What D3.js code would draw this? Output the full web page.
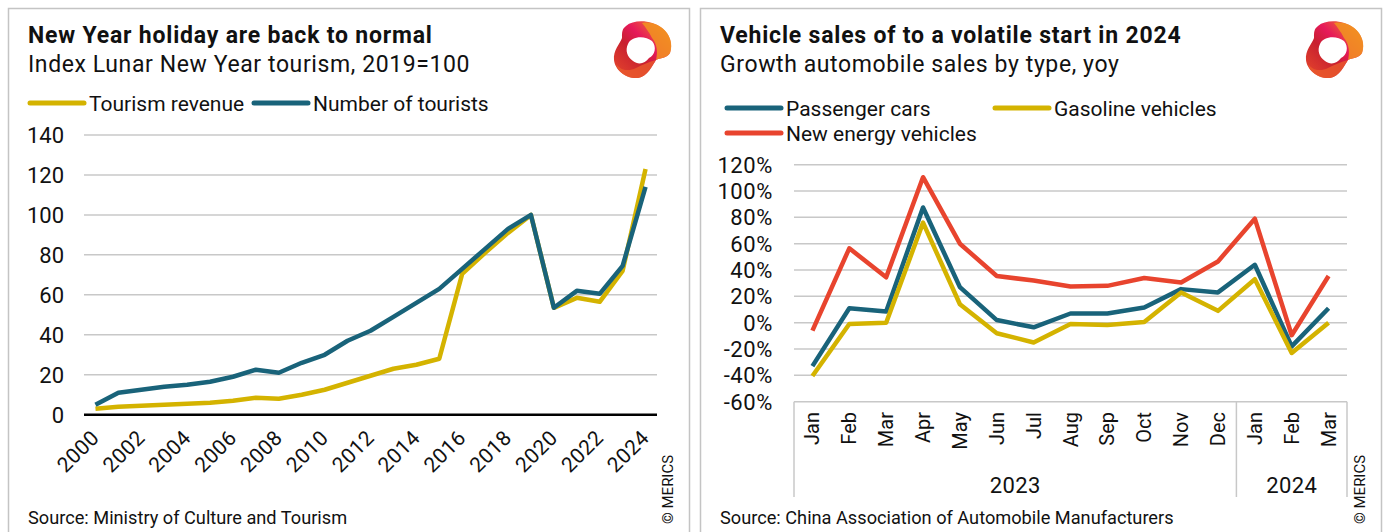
<!DOCTYPE html>
<html>
<head>
<meta charset="utf-8">
<script src="https://cdn.jsdelivr.net/npm/d3@7"></script>
<style>
  body { margin: 0; background: #fff; }
  svg { display: block; font-family: Roboto, "Noto Sans", sans-serif; }
</style>
</head>
<body>
<div id="chart"></div>
<script>
// left chart: Lunar New Year tourism index, 2019=100
const years = d3.range(2000, 2025);
const tourismRevenue = [3, 4, 4.5, 5, 5.5, 6, 7, 8.5, 8, 10, 12.5, 16, 19.5, 23, 25, 28, 70.5, 81, 91, 100, 53.5, 58.5, 56.5, 72, 123];
const tourists = [5, 11, 12.5, 14, 15, 16.5, 19, 22.5, 21, 26, 30, 37, 42, 49, 56, 63, 73, 83, 93, 100, 53.5, 62, 60.5, 74.5, 114];
const leftTicks = [0, 20, 40, 60, 80, 100, 120, 140];

// right chart: vehicle sales growth yoy (%)
const months = ['Jan', 'Feb', 'Mar', 'Apr', 'May', 'Jun', 'Jul', 'Aug', 'Sep', 'Oct', 'Nov', 'Dec', 'Jan', 'Feb', 'Mar'];
const yearGroups = [{ label: '2023', n: 12 }, { label: '2024', n: 3 }];
const passengerCars = [-33, 11, 8.5, 87.5, 27, 2, -3.5, 7, 7, 11.5, 25.5, 23, 44, -18, 11];
const gasoline = [-40.5, -1, 0, 76, 14, -8, -15, -1, -1.8, 0.5, 23, 9, 33, -23, 0];
const newEnergy = [-6, 56.5, 34.5, 110.5, 60, 35.5, 32, 27.5, 28, 34, 30.5, 46.5, 79, -9.5, 35.5];
const rightTicks = [-60, -40, -20, 0, 20, 40, 60, 80, 100, 120];

const YELLOW = '#d4b300';
const TEAL = '#19637a';
const RED = '#e8442e';
const GRID = '#c8c8c8';

const svg = d3.select('#chart')
  .append('svg')
  .attr('width', 1384)
  .attr('height', 532);

// gradient for the logo
const defs = svg.append('defs');
const grad = defs.append('linearGradient')
  .attr('id', 'logoGrad')
  .attr('x1', '0%').attr('y1', '100%')
  .attr('x2', '100%').attr('y2', '0%');
grad.append('stop').attr('offset', '0%').attr('stop-color', '#e84a2c');
grad.append('stop').attr('offset', '40%').attr('stop-color', '#c8202f');
grad.append('stop').attr('offset', '60%').attr('stop-color', '#e6195a');
grad.append('stop').attr('offset', '100%').attr('stop-color', '#f39a1e');

function drawLogo(x, y) {
  const g = svg.append('g').attr('transform', `translate(${x},${y})`);
  g.append('path')
    .attr('d', 'M14,6 C22,-1 40,0 50,8 C58,14 61,24 58,33 C55,38 48,38 44,40 C40,46 36,56 26,58 C14,59 3,50 2,40 C1,30 8,24 10,18 C10,12 10,9 14,6 Z')
    .attr('fill', 'url(#logoGrad)');
  // orange band on the right
  g.append('path')
    .attr('d', 'M30,3 C40,1 50,6 55,13 C60,20 60,28 58,33 C55,38 48,38 44,40 C46,32 45,24 40,18 C37,12 34,8 30,3 Z')
    .attr('fill', '#f29320').attr('opacity', 0.85);
  // red-orange lower band
  g.append('path')
    .attr('d', 'M4,44 C8,50 16,52 24,48 C30,45 36,42 44,40 C40,46 36,56 26,58 C14,59 6,52 4,44 Z')
    .attr('fill', '#ea5a2c').attr('opacity', 0.8);
  g.append('path')
    .attr('d', 'M16,24 C19,16 33,15 40,21 C45,27 43,35 37,38 C33,44 26,45 21,41 C15,37 13,30 16,24 Z')
    .attr('fill', '#fff');
}

function panelFrame(x0, title, subtitle, source) {
  svg.append('path')
    .attr('d', `M${x0 + 0.5},540 V8.5 H${x0 + 681.5} V540`)
    .attr('fill', 'none')
    .attr('stroke', '#c4c4c4')
    .attr('stroke-width', 1.5);
  svg.append('text')
    .attr('x', x0 + 20).attr('y', 43)
    .attr('font-size', 23).attr('font-weight', 700)
    .attr('letter-spacing', 0.8)
    .attr('fill', '#111')
    .text(title);
  svg.append('text')
    .attr('x', x0 + 20).attr('y', 72)
    .attr('font-size', 23)
    .attr('letter-spacing', 0.6)
    .attr('fill', '#111')
    .text(subtitle);
  svg.append('text')
    .attr('x', x0 + 20).attr('y', 524)
    .attr('font-size', 18.2)
    .attr('fill', '#111')
    .text(source);
  svg.append('text')
    .attr('transform', `translate(${x0 + 665},524) rotate(-90)`)
    .attr('font-size', 15)
    .attr('fill', '#111')
    .text('\u00a9 MERICS');
  drawLogo(x0 + 604, 20);
}

function legendItem(x, y, color, label) {
  svg.append('line')
    .attr('x1', x).attr('x2', x + 54)
    .attr('y1', y).attr('y2', y)
    .attr('stroke', color)
    .attr('stroke-width', 5)
    .attr('stroke-linecap', 'round');
  svg.append('text')
    .attr('x', x + 59).attr('y', y + 7.5)
    .attr('font-size', 21)
    .attr('fill', '#111')
    .text(label);
}

// ---------- left panel ----------
panelFrame(8,
  'New Year holiday are back to normal',
  'Index Lunar New Year tourism, 2019=100',
  'Source: Ministry of Culture and Tourism');

legendItem(30, 103, YELLOW, 'Tourism revenue');
legendItem(254, 103, TEAL, 'Number of tourists');

const xL = d3.scalePoint().domain(years).range([84, 657]).padding(0.5);
const yL = d3.scaleLinear().domain([0, 140]).range([414.7, 135]);

svg.append('g')
  .selectAll('line')
  .data(leftTicks.filter(d => d > 0))
  .join('line')
  .attr('x1', 84).attr('x2', 657)
  .attr('y1', d => yL(d)).attr('y2', d => yL(d))
  .attr('stroke', GRID).attr('stroke-width', 1.5);

svg.append('g')
  .selectAll('text')
  .data(leftTicks)
  .join('text')
  .attr('x', 64).attr('y', d => yL(d) + 8)
  .attr('text-anchor', 'end')
  .attr('font-size', 22)
  .attr('fill', '#111')
  .text(d => d);

svg.append('g')
  .selectAll('text')
  .data(years.filter(d => d % 2 === 0))
  .join('text')
  .attr('transform', d => `translate(${xL(d) + 5},${439}) rotate(-45)`)
  .attr('text-anchor', 'end')
  .attr('font-size', 21)
  .attr('letter-spacing', 0.5)
  .attr('fill', '#111')
  .text(d => d);

const lineL = d3.line().x((d, i) => xL(years[i])).y(d => yL(d));
svg.append('path')
  .datum(tourismRevenue)
  .attr('d', lineL)
  .attr('fill', 'none').attr('stroke', YELLOW).attr('stroke-width', 4.5)
  .attr('stroke-linejoin', 'round');
svg.append('path')
  .datum(tourists)
  .attr('d', lineL)
  .attr('fill', 'none').attr('stroke', TEAL).attr('stroke-width', 4.5)
  .attr('stroke-linejoin', 'round');

svg.append('line')
  .attr('x1', 84).attr('x2', 657)
  .attr('y1', yL(0)).attr('y2', yL(0))
  .attr('stroke', '#000').attr('stroke-width', 2.5);

// ---------- right panel ----------
panelFrame(700,
  'Vehicle sales of to a volatile start in 2024',
  'Growth automobile sales by type, yoy',
  'Source: China Association of Automobile Manufacturers');

legendItem(727, 108, TEAL, 'Passenger cars');
legendItem(995, 108, YELLOW, 'Gasoline vehicles');
legendItem(727, 133, RED, 'New energy vehicles');

const idx = d3.range(months.length);
const xR = d3.scalePoint().domain(idx).range([794, 1347]).padding(0.5);
const yR = d3.scaleLinear().domain([-60, 120]).range([401.7, 164.7]);
const step = xR.step();

svg.append('g')
  .selectAll('line')
  .data(rightTicks)
  .join('line')
  .attr('x1', 794).attr('x2', 1347)
  .attr('y1', d => yR(d)).attr('y2', d => yR(d))
  .attr('stroke', GRID).attr('stroke-width', 1.5);

svg.append('g')
  .selectAll('text')
  .data(rightTicks)
  .join('text')
  .attr('x', 773).attr('y', d => yR(d) + 8)
  .attr('text-anchor', 'end')
  .attr('font-size', 22)
  .attr('letter-spacing', 0.6)
  .attr('fill', '#111')
  .text(d => d + '%');

// month labels
svg.append('g')
  .selectAll('text')
  .data(months)
  .join('text')
  .attr('transform', (d, i) => `translate(${xR(i) + 7},${412}) rotate(-90)`)
  .attr('text-anchor', 'end')
  .attr('font-size', 20)
  .attr('fill', '#111')
  .text(d => d);

// group separators and year labels
let start = 0;
const bounds = [0];
yearGroups.forEach(g => { start += g.n; bounds.push(start); });
svg.append('g')
  .selectAll('line')
  .data(bounds)
  .join('line')
  .attr('x1', d => 794 + d * step).attr('x2', d => 794 + d * step)
  .attr('y1', yR(-60)).attr('y2', 497)
  .attr('stroke', GRID).attr('stroke-width', 1.5);
svg.append('g')
  .selectAll('text')
  .data(yearGroups)
  .join('text')
  .attr('x', (d, i) => 794 + (bounds[i] + bounds[i + 1]) / 2 * step)
  .attr('y', 493)
  .attr('text-anchor', 'middle')
  .attr('font-size', 22)
  .attr('letter-spacing', 0.4)
  .attr('fill', '#111')
  .text(d => d.label);

const lineR = d3.line().x((d, i) => xR(i)).y(d => yR(d));
[[newEnergy, RED], [passengerCars, TEAL], [gasoline, YELLOW]].forEach(([vals, color]) => {
  svg.append('path')
    .datum(vals)
    .attr('d', lineR)
    .attr('fill', 'none').attr('stroke', color).attr('stroke-width', 4.5)
    .attr('stroke-linejoin', 'round');
});
</script>
</body>
</html>
